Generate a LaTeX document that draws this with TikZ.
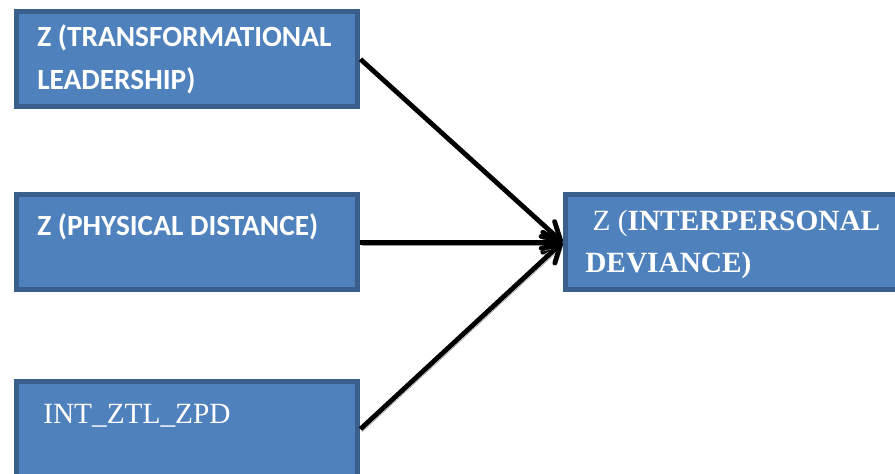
\documentclass[tikz,border=0pt]{standalone}
\usepackage{fontspec}
\setmainfont{Liberation Serif}
\newfontfamily\carlito{Carlito}
\usetikzlibrary{arrows.meta,positioning}

\definecolor{boxfill}{HTML}{4F81BD}
\definecolor{boxline}{HTML}{3A5F8C}

\begin{document}
\begin{tikzpicture}[x=0.75pt, y=-0.75pt,
      box/.style={draw=boxline, fill=boxfill, line width=3.75pt, anchor=north west,
        minimum width=256.1pt, minimum height=71.6pt, inner sep=0pt},
      sanslbl/.style={anchor=base west, align=left, text=white, inner sep=0pt,
        font=\carlito\bfseries\fontsize{22}{32.25}\selectfont},
      seriflbl/.style={anchor=base west, align=left, text=white, inner sep=0pt,
        font=\fontsize{22}{31.5}\selectfont},
      arr/.style={-{Straight Barb[length=13pt, width=15pt, round]}, line width=3.6pt,
        preaction={draw=black!40, transform canvas={xshift=1.2pt, yshift=-2.2pt}}}]
    \useasboundingbox (0,0) rectangle (895,474);
    % predictor boxes on the left, outcome box on the right
    \node[box] (tl)  at (14,9) {};
    \node[box] (pd)  at (14,192) {};
    \node[box] (int) at (14,378.8) {};
    \node[box] (dev) at (562.5,192) {};
    % box texts (base anchor sits on the last line)
    \node[sanslbl] (tltext) at ([shift={(23,81)}]tl.north west)
      {Z (TRANSFORMATIONAL\\LEADERSHIP)};
    \node[sanslbl] (pdtext) at ([shift={(23,43)}]pd.north west)
      {Z (PHYSICAL DISTANCE)};
    \node[seriflbl] (inttext) at ([shift={(29,44.5)}]int.north west)
      {INT\_ZTL\_ZPD};
    \node[seriflbl] (devtext) at ([shift={(22.5,80)}]dev.north west)
      {\hspace*{0.25em}Z (\textbf{INTERPERSONAL}\\\textbf{DEVIANCE)}};
    % paths into the outcome
    \foreach \src in {tl,pd,int}
      \draw[arr] (\src.east) -- (dev.west);
\end{tikzpicture}
\end{document}
